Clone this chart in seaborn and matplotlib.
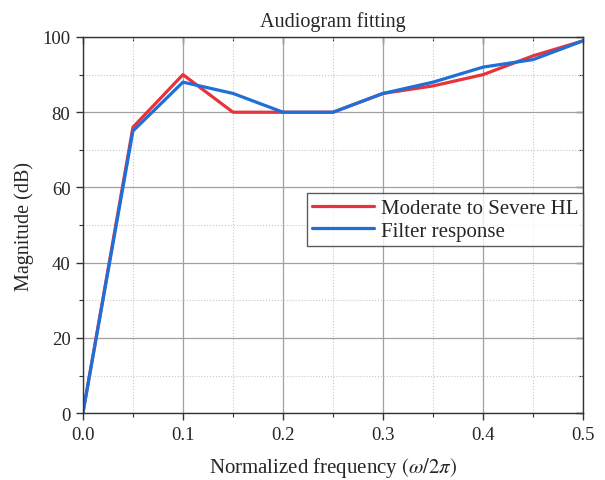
import numpy as np
import pandas as pd
import matplotlib
matplotlib.use("Agg")
import matplotlib.pyplot as plt
from matplotlib.ticker import MultipleLocator, NullFormatter
import seaborn as sns

# values
freq = [0.0, 0.05, 0.1, 0.15, 0.2, 0.25, 0.3, 0.35, 0.4, 0.45, 0.5]
hearing_loss = [0, 76, 90, 80, 80, 80, 85, 87, 90, 95, 99]
filter_resp = [0, 75, 88, 85, 80, 80, 85, 88, 92, 94, 99]
series_names = ["Moderate to Severe HL", "Filter response"]

df = pd.DataFrame({"freq": freq * 2,
                   "mag": hearing_loss + filter_resp,
                   "series": [series_names[0]] * len(freq) + [series_names[1]] * len(freq)})

sns.set_style("white")
plt.rcParams["font.family"] = ["Liberation Serif", "DejaVu Serif"]
plt.rcParams["mathtext.fontset"] = "stix"

fig, ax = plt.subplots(figsize=(6.05, 4.81), dpi=100)
fig.subplots_adjust(left=0.137, right=0.964, top=0.921, bottom=0.139)

sns.lineplot(data=df, x="freq", y="mag", hue="series", ax=ax,
             palette=["#e8333b", "#1f6fd8"], linewidth=2.3, sort=False)

ax.set_xlim(0, 0.5)
ax.set_ylim(0, 100)
ax.xaxis.set_major_locator(MultipleLocator(0.1))
ax.xaxis.set_minor_locator(MultipleLocator(0.05))
ax.yaxis.set_major_locator(MultipleLocator(20))
ax.yaxis.set_minor_locator(MultipleLocator(10))
ax.xaxis.set_major_formatter(plt.FormatStrFormatter("%.1f"))

ax.grid(which="major", color="#a0a0a0", linewidth=0.9, linestyle="-")
ax.grid(which="minor", color="#c8c8c8", linewidth=0.8, linestyle=":")
ax.set_axisbelow(True)

for s in ax.spines.values():
    s.set_color("#333333")
    s.set_linewidth(1.0)

ax.tick_params(which="major", direction="out", length=5, width=1, labelsize=13.5,
               color="#333333", bottom=True, left=True, top=False, right=False, pad=4)
ax.tick_params(which="minor", direction="out", length=3, width=0.8, color="#333333",
               bottom=True, left=True)

# inward ticks on the right and top sides, no labels
right_ax = ax.secondary_yaxis("right")
top_ax = ax.secondary_xaxis("top")
right_ax.yaxis.set_major_locator(MultipleLocator(20))
right_ax.yaxis.set_minor_locator(MultipleLocator(10))
right_ax.yaxis.set_major_formatter(NullFormatter())
top_ax.xaxis.set_major_locator(MultipleLocator(0.1))
top_ax.xaxis.set_minor_locator(MultipleLocator(0.05))
top_ax.xaxis.set_major_formatter(NullFormatter())
for sec in [right_ax, top_ax]:
    sec.tick_params(which="major", direction="in", length=5, width=1, color="#333333")
    sec.tick_params(which="minor", direction="in", length=3, width=0.8, color="#333333")
    sec.spines[:].set_visible(False)

ax.set_title("Audiogram fitting", fontsize=14.5, pad=8)
ax.set_xlabel(r"Normalized frequency $(\omega/2\pi)$", fontsize=15, labelpad=9)
ax.set_ylabel("Magnitude (dB)", fontsize=14.5, labelpad=6)

leg = ax.legend(loc="lower right", bbox_to_anchor=(1.0, 0.445), fontsize=15,
                frameon=True, fancybox=False, edgecolor="#333333", borderaxespad=0,
                handlelength=3.0, borderpad=0.25, labelspacing=0.15, handletextpad=0.3)
leg.get_frame().set_linewidth(1.0)

plt.savefig("out.png", dpi=100)
